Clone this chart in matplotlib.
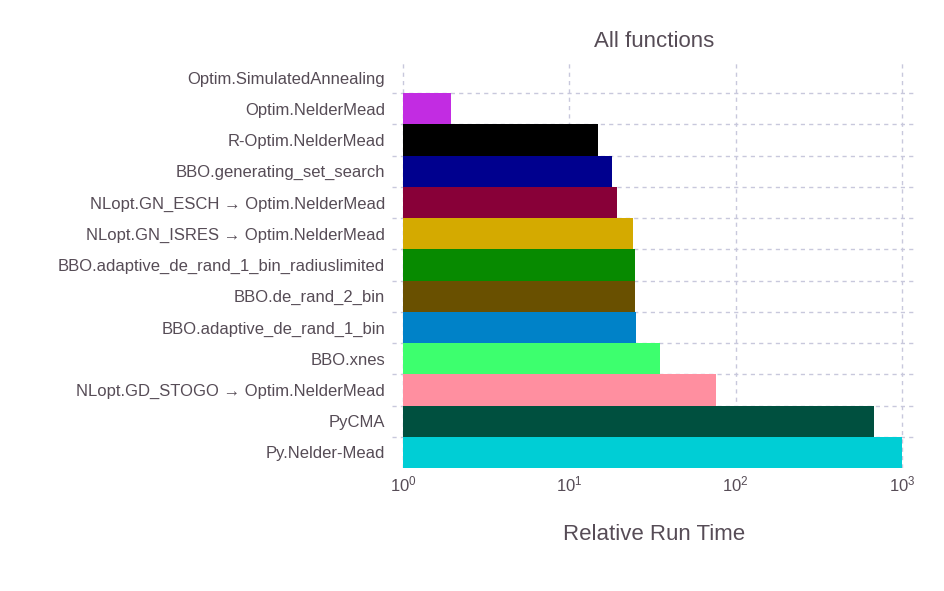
import matplotlib
matplotlib.use("Agg")
import matplotlib.pyplot as plt
import numpy as np

plt.rcParams['font.family'] = ['Liberation Sans', 'DejaVu Sans']
plt.rcParams['mathtext.fontset'] = 'custom'
plt.rcParams['mathtext.rm'] = 'Liberation Sans'
plt.rcParams['mathtext.it'] = 'Liberation Sans:italic'

# Data (top to bottom)
methods = [
    'Optim.SimulatedAnnealing',
    'Optim.NelderMead',
    'R-Optim.NelderMead',
    'BBO.generating_set_search',
    'NLopt.GN_ESCH \u2192 Optim.NelderMead',
    'NLopt.GN_ISRES \u2192 Optim.NelderMead',
    'BBO.adaptive_de_rand_1_bin_radiuslimited',
    'BBO.de_rand_2_bin',
    'BBO.adaptive_de_rand_1_bin',
    'BBO.xnes',
    'NLopt.GD_STOGO \u2192 Optim.NelderMead',
    'PyCMA',
    'Py.Nelder-Mead',
]
run_time = [1.0, 1.94, 14.9, 18.1, 19.4, 24.2, 24.8, 24.8, 25.2, 35.1, 76.2, 679, 995]
bar_colors = ['#ffffff', '#c22ce2', '#000000', '#00008e', '#880038', '#d4aa00',
              '#078a00', '#695000', '#0082c8', '#3dff6e', '#ff8fa0', '#00503f', '#00ced5']

text_col = '#564c56'
grid_col = '#c8c8dc'

fig = plt.figure(figsize=(9.45, 5.91), dpi=100)
ax = fig.add_axes([392 / 945, 1 - 468 / 591, (916 - 392) / 945, (468 - 62) / 591])

y = np.arange(len(methods))
left = 1.0
ax.barh(y, np.array(run_time) - left, left=left, height=1.0, color=bar_colors,
        edgecolor='none', zorder=2)

ax.set_xscale('log')
ax.set_xlim(10 ** -0.066, 10 ** 3.085)
ax.set_ylim(len(methods) - 0.5, -0.5)

ax.set_xticks([1, 10, 100, 1000])
ax.set_xticklabels([r'$10^{0}$', r'$10^{1}$', r'$10^{2}$', r'$10^{3}$'])
ax.xaxis.set_minor_locator(matplotlib.ticker.NullLocator())
ax.set_yticks(y)
ax.set_yticklabels(methods)

for k in range(len(methods) - 1):
    ax.axhline(k + 0.5, color=grid_col, lw=1, ls=(0, (3, 3)), zorder=1)
for xv in [1, 10, 100, 1000]:
    ax.axvline(xv, color=grid_col, lw=1, ls=(0, (3, 3)), zorder=1)

for s in ax.spines.values():
    s.set_visible(False)
ax.tick_params(axis='both', length=0, colors=text_col, labelsize=12)
ax.tick_params(axis='y', pad=5)
ax.tick_params(axis='x', pad=5)

ax.set_title('All functions', fontsize=16, color=text_col, pad=11)
ax.set_xlabel('Relative Run Time', fontsize=16, color=text_col, labelpad=21)

fig.savefig('out.png', dpi=100)
